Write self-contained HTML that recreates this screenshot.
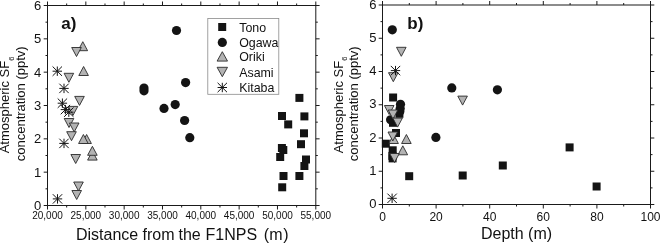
<!DOCTYPE html>
<html><head><meta charset="utf-8"><title>SF6 plots</title>
<style>
html,body{margin:0;padding:0;background:#fff;width:660px;height:243px;overflow:hidden;}
svg{display:block;font-family:"Liberation Sans", sans-serif;filter:grayscale(100%);}
text{fill:#111;}
</style></head>
<body>
<svg width="660" height="243" viewBox="0 0 660 243">
<rect width="660" height="243" fill="#fff"/>
<rect x="47.50" y="5.50" width="268.30" height="200.00" fill="none" stroke="#1a1a1a" stroke-width="1"/>
<line x1="47.50" y1="205.50" x2="47.50" y2="209.50" stroke="#1a1a1a" stroke-width="1"/>
<line x1="47.50" y1="5.50" x2="47.50" y2="1.50" stroke="#1a1a1a" stroke-width="1"/>
<line x1="85.83" y1="205.50" x2="85.83" y2="209.50" stroke="#1a1a1a" stroke-width="1"/>
<line x1="85.83" y1="5.50" x2="85.83" y2="1.50" stroke="#1a1a1a" stroke-width="1"/>
<line x1="124.16" y1="205.50" x2="124.16" y2="209.50" stroke="#1a1a1a" stroke-width="1"/>
<line x1="124.16" y1="5.50" x2="124.16" y2="1.50" stroke="#1a1a1a" stroke-width="1"/>
<line x1="162.49" y1="205.50" x2="162.49" y2="209.50" stroke="#1a1a1a" stroke-width="1"/>
<line x1="162.49" y1="5.50" x2="162.49" y2="1.50" stroke="#1a1a1a" stroke-width="1"/>
<line x1="200.81" y1="205.50" x2="200.81" y2="209.50" stroke="#1a1a1a" stroke-width="1"/>
<line x1="200.81" y1="5.50" x2="200.81" y2="1.50" stroke="#1a1a1a" stroke-width="1"/>
<line x1="239.14" y1="205.50" x2="239.14" y2="209.50" stroke="#1a1a1a" stroke-width="1"/>
<line x1="239.14" y1="5.50" x2="239.14" y2="1.50" stroke="#1a1a1a" stroke-width="1"/>
<line x1="277.47" y1="205.50" x2="277.47" y2="209.50" stroke="#1a1a1a" stroke-width="1"/>
<line x1="277.47" y1="5.50" x2="277.47" y2="1.50" stroke="#1a1a1a" stroke-width="1"/>
<line x1="315.80" y1="205.50" x2="315.80" y2="209.50" stroke="#1a1a1a" stroke-width="1"/>
<line x1="315.80" y1="5.50" x2="315.80" y2="1.50" stroke="#1a1a1a" stroke-width="1"/>
<line x1="66.66" y1="205.50" x2="66.66" y2="207.50" stroke="#1a1a1a" stroke-width="1"/>
<line x1="66.66" y1="5.50" x2="66.66" y2="3.50" stroke="#1a1a1a" stroke-width="1"/>
<line x1="104.99" y1="205.50" x2="104.99" y2="207.50" stroke="#1a1a1a" stroke-width="1"/>
<line x1="104.99" y1="5.50" x2="104.99" y2="3.50" stroke="#1a1a1a" stroke-width="1"/>
<line x1="143.32" y1="205.50" x2="143.32" y2="207.50" stroke="#1a1a1a" stroke-width="1"/>
<line x1="143.32" y1="5.50" x2="143.32" y2="3.50" stroke="#1a1a1a" stroke-width="1"/>
<line x1="181.65" y1="205.50" x2="181.65" y2="207.50" stroke="#1a1a1a" stroke-width="1"/>
<line x1="181.65" y1="5.50" x2="181.65" y2="3.50" stroke="#1a1a1a" stroke-width="1"/>
<line x1="219.98" y1="205.50" x2="219.98" y2="207.50" stroke="#1a1a1a" stroke-width="1"/>
<line x1="219.98" y1="5.50" x2="219.98" y2="3.50" stroke="#1a1a1a" stroke-width="1"/>
<line x1="258.31" y1="205.50" x2="258.31" y2="207.50" stroke="#1a1a1a" stroke-width="1"/>
<line x1="258.31" y1="5.50" x2="258.31" y2="3.50" stroke="#1a1a1a" stroke-width="1"/>
<line x1="296.64" y1="205.50" x2="296.64" y2="207.50" stroke="#1a1a1a" stroke-width="1"/>
<line x1="296.64" y1="5.50" x2="296.64" y2="3.50" stroke="#1a1a1a" stroke-width="1"/>
<line x1="43.70" y1="205.50" x2="47.50" y2="205.50" stroke="#1a1a1a" stroke-width="1"/>
<line x1="315.80" y1="205.50" x2="319.60" y2="205.50" stroke="#1a1a1a" stroke-width="1"/>
<line x1="43.70" y1="172.17" x2="47.50" y2="172.17" stroke="#1a1a1a" stroke-width="1"/>
<line x1="315.80" y1="172.17" x2="319.60" y2="172.17" stroke="#1a1a1a" stroke-width="1"/>
<line x1="43.70" y1="138.83" x2="47.50" y2="138.83" stroke="#1a1a1a" stroke-width="1"/>
<line x1="315.80" y1="138.83" x2="319.60" y2="138.83" stroke="#1a1a1a" stroke-width="1"/>
<line x1="43.70" y1="105.50" x2="47.50" y2="105.50" stroke="#1a1a1a" stroke-width="1"/>
<line x1="315.80" y1="105.50" x2="319.60" y2="105.50" stroke="#1a1a1a" stroke-width="1"/>
<line x1="43.70" y1="72.17" x2="47.50" y2="72.17" stroke="#1a1a1a" stroke-width="1"/>
<line x1="315.80" y1="72.17" x2="319.60" y2="72.17" stroke="#1a1a1a" stroke-width="1"/>
<line x1="43.70" y1="38.83" x2="47.50" y2="38.83" stroke="#1a1a1a" stroke-width="1"/>
<line x1="315.80" y1="38.83" x2="319.60" y2="38.83" stroke="#1a1a1a" stroke-width="1"/>
<line x1="43.70" y1="5.50" x2="47.50" y2="5.50" stroke="#1a1a1a" stroke-width="1"/>
<line x1="315.80" y1="5.50" x2="319.60" y2="5.50" stroke="#1a1a1a" stroke-width="1"/>
<line x1="45.50" y1="188.83" x2="47.50" y2="188.83" stroke="#1a1a1a" stroke-width="1"/>
<line x1="315.80" y1="188.83" x2="317.80" y2="188.83" stroke="#1a1a1a" stroke-width="1"/>
<line x1="45.50" y1="155.50" x2="47.50" y2="155.50" stroke="#1a1a1a" stroke-width="1"/>
<line x1="315.80" y1="155.50" x2="317.80" y2="155.50" stroke="#1a1a1a" stroke-width="1"/>
<line x1="45.50" y1="122.17" x2="47.50" y2="122.17" stroke="#1a1a1a" stroke-width="1"/>
<line x1="315.80" y1="122.17" x2="317.80" y2="122.17" stroke="#1a1a1a" stroke-width="1"/>
<line x1="45.50" y1="88.83" x2="47.50" y2="88.83" stroke="#1a1a1a" stroke-width="1"/>
<line x1="315.80" y1="88.83" x2="317.80" y2="88.83" stroke="#1a1a1a" stroke-width="1"/>
<line x1="45.50" y1="55.50" x2="47.50" y2="55.50" stroke="#1a1a1a" stroke-width="1"/>
<line x1="315.80" y1="55.50" x2="317.80" y2="55.50" stroke="#1a1a1a" stroke-width="1"/>
<line x1="45.50" y1="22.17" x2="47.50" y2="22.17" stroke="#1a1a1a" stroke-width="1"/>
<line x1="315.80" y1="22.17" x2="317.80" y2="22.17" stroke="#1a1a1a" stroke-width="1"/>
<text x="41.30" y="209.90" font-size="13" text-anchor="end" font-weight="normal" >0</text>
<text x="41.30" y="176.57" font-size="13" text-anchor="end" font-weight="normal" >1</text>
<text x="41.30" y="143.23" font-size="13" text-anchor="end" font-weight="normal" >2</text>
<text x="41.30" y="109.90" font-size="13" text-anchor="end" font-weight="normal" >3</text>
<text x="41.30" y="76.57" font-size="13" text-anchor="end" font-weight="normal" >4</text>
<text x="41.30" y="43.23" font-size="13" text-anchor="end" font-weight="normal" >5</text>
<text x="41.30" y="9.90" font-size="13" text-anchor="end" font-weight="normal" >6</text>
<text x="47.50" y="219.40" font-size="10" text-anchor="middle" font-weight="normal" >20,000</text>
<text x="85.83" y="219.40" font-size="10" text-anchor="middle" font-weight="normal" >25,000</text>
<text x="124.16" y="219.40" font-size="10" text-anchor="middle" font-weight="normal" >30,000</text>
<text x="162.49" y="219.40" font-size="10" text-anchor="middle" font-weight="normal" >35,000</text>
<text x="200.81" y="219.40" font-size="10" text-anchor="middle" font-weight="normal" >40,000</text>
<text x="239.14" y="219.40" font-size="10" text-anchor="middle" font-weight="normal" >45,000</text>
<text x="277.47" y="219.40" font-size="10" text-anchor="middle" font-weight="normal" >50,000</text>
<text x="315.80" y="219.40" font-size="10" text-anchor="middle" font-weight="normal" >55,000</text>
<text y="239.6" font-size="16"><tspan x="76.0">Distance</tspan><tspan x="142.5">from</tspan><tspan x="178.5">the</tspan><tspan x="205.6">F1NPS</tspan><tspan x="263.8">(m</tspan><tspan x="283.2">)</tspan></text>
<text x="61.30" y="29.20" font-size="17" text-anchor="start" font-weight="bold" >a)</text>
<g transform="translate(11.50,105.00) rotate(-90)"><text x="0" y="-2.2" font-size="13" text-anchor="middle">Atmospheric SF<tspan font-size="7.5" dy="4.2">6</tspan></text><text x="1.2" y="13.0" font-size="13" text-anchor="middle">concentration (pptv)</text></g>
<rect x="295.40" y="93.90" width="8" height="8" fill="#141414"/>
<rect x="278.00" y="112.00" width="8" height="8" fill="#141414"/>
<rect x="284.20" y="120.40" width="8" height="8" fill="#141414"/>
<rect x="300.40" y="112.40" width="8" height="8" fill="#141414"/>
<rect x="300.00" y="129.30" width="8" height="8" fill="#141414"/>
<rect x="297.00" y="140.20" width="8" height="8" fill="#141414"/>
<rect x="277.90" y="144.00" width="8" height="8" fill="#141414"/>
<rect x="279.30" y="146.00" width="8" height="8" fill="#141414"/>
<rect x="276.20" y="153.00" width="8" height="8" fill="#141414"/>
<rect x="302.00" y="155.50" width="8" height="8" fill="#141414"/>
<rect x="300.40" y="162.00" width="8" height="8" fill="#141414"/>
<rect x="279.50" y="172.00" width="8" height="8" fill="#141414"/>
<rect x="295.40" y="172.00" width="8" height="8" fill="#141414"/>
<rect x="278.20" y="183.30" width="8" height="8" fill="#141414"/>
<circle cx="176.50" cy="30.50" r="4.6" fill="#141414"/>
<circle cx="144.00" cy="88.00" r="4.6" fill="#141414"/>
<circle cx="144.00" cy="90.80" r="4.6" fill="#141414"/>
<circle cx="185.60" cy="82.60" r="4.6" fill="#141414"/>
<circle cx="164.00" cy="108.40" r="4.6" fill="#141414"/>
<circle cx="175.20" cy="104.60" r="4.6" fill="#141414"/>
<circle cx="184.60" cy="120.50" r="4.6" fill="#141414"/>
<circle cx="189.80" cy="137.70" r="4.6" fill="#141414"/>
<path d="M82.80,41.70 L87.60,50.70 L78.00,50.70 Z" fill="#b3b3b3" stroke="#2a2a2a" stroke-width="0.9" stroke-linejoin="miter"/>
<path d="M83.60,66.50 L88.40,75.50 L78.80,75.50 Z" fill="#b3b3b3" stroke="#2a2a2a" stroke-width="0.9" stroke-linejoin="miter"/>
<path d="M86.60,134.50 L91.40,143.50 L81.80,143.50 Z" fill="#b3b3b3" stroke="#2a2a2a" stroke-width="0.9" stroke-linejoin="miter"/>
<path d="M83.40,134.50 L88.20,143.50 L78.60,143.50 Z" fill="#b3b3b3" stroke="#2a2a2a" stroke-width="0.9" stroke-linejoin="miter"/>
<path d="M92.40,151.10 L97.20,160.10 L87.60,160.10 Z" fill="#b3b3b3" stroke="#2a2a2a" stroke-width="0.9" stroke-linejoin="miter"/>
<path d="M92.40,146.30 L97.20,155.30 L87.60,155.30 Z" fill="#b3b3b3" stroke="#2a2a2a" stroke-width="0.9" stroke-linejoin="miter"/>
<path d="M71.70,47.50 L81.30,47.50 L76.50,56.50 Z" fill="#b3b3b3" stroke="#2a2a2a" stroke-width="0.9" stroke-linejoin="miter"/>
<path d="M64.10,73.30 L73.70,73.30 L68.90,82.30 Z" fill="#b3b3b3" stroke="#2a2a2a" stroke-width="0.9" stroke-linejoin="miter"/>
<path d="M74.70,96.40 L84.30,96.40 L79.50,105.40 Z" fill="#b3b3b3" stroke="#2a2a2a" stroke-width="0.9" stroke-linejoin="miter"/>
<path d="M68.20,106.40 L77.80,106.40 L73.00,115.40 Z" fill="#b3b3b3" stroke="#2a2a2a" stroke-width="0.9" stroke-linejoin="miter"/>
<path d="M64.20,118.50 L73.80,118.50 L69.00,127.50 Z" fill="#b3b3b3" stroke="#2a2a2a" stroke-width="0.9" stroke-linejoin="miter"/>
<path d="M69.40,123.00 L79.00,123.00 L74.20,132.00 Z" fill="#b3b3b3" stroke="#2a2a2a" stroke-width="0.9" stroke-linejoin="miter"/>
<path d="M66.70,131.70 L76.30,131.70 L71.50,140.70 Z" fill="#b3b3b3" stroke="#2a2a2a" stroke-width="0.9" stroke-linejoin="miter"/>
<path d="M70.90,154.50 L80.50,154.50 L75.70,163.50 Z" fill="#b3b3b3" stroke="#2a2a2a" stroke-width="0.9" stroke-linejoin="miter"/>
<path d="M73.70,182.00 L83.30,182.00 L78.50,191.00 Z" fill="#b3b3b3" stroke="#2a2a2a" stroke-width="0.9" stroke-linejoin="miter"/>
<path d="M71.90,190.50 L81.50,190.50 L76.70,199.50 Z" fill="#b3b3b3" stroke="#2a2a2a" stroke-width="0.9" stroke-linejoin="miter"/>
<path d="M52.60,71.20H62.00M57.30,66.50V75.90M52.60,66.50L62.00,75.90M52.60,75.90L62.00,66.50" stroke="#141414" stroke-width="1" fill="none"/>
<path d="M59.30,88.40H68.70M64.00,83.70V93.10M59.30,83.70L68.70,93.10M59.30,93.10L68.70,83.70" stroke="#141414" stroke-width="1" fill="none"/>
<path d="M57.70,103.20H67.10M62.40,98.50V107.90M57.70,98.50L67.10,107.90M57.70,107.90L67.10,98.50" stroke="#141414" stroke-width="1" fill="none"/>
<path d="M60.70,109.60H70.10M65.40,104.90V114.30M60.70,104.90L70.10,114.30M60.70,114.30L70.10,104.90" stroke="#141414" stroke-width="1" fill="none"/>
<path d="M64.10,112.20H73.50M68.80,107.50V116.90M64.10,107.50L73.50,116.90M64.10,116.90L73.50,107.50" stroke="#141414" stroke-width="1" fill="none"/>
<path d="M59.30,143.40H68.70M64.00,138.70V148.10M59.30,138.70L68.70,148.10M59.30,148.10L68.70,138.70" stroke="#141414" stroke-width="1" fill="none"/>
<path d="M52.80,198.90H62.20M57.50,194.20V203.60M52.80,194.20L62.20,203.60M52.80,203.60L62.20,194.20" stroke="#141414" stroke-width="1" fill="none"/>
<rect x="207.8" y="18.4" width="71" height="75.9" fill="#fff" stroke="#8a8a8a" stroke-width="0.8"/>
<rect x="218.20" y="23.00" width="8" height="8" fill="#141414"/>
<circle cx="222.30" cy="42.40" r="4.6" fill="#141414"/>
<path d="M222.30,51.70 L227.50,61.10 L217.10,61.10 Z" fill="#b3b3b3" stroke="#2a2a2a" stroke-width="0.9" stroke-linejoin="miter"/>
<path d="M217.10,67.30 L227.50,67.30 L222.30,76.70 Z" fill="#b3b3b3" stroke="#2a2a2a" stroke-width="0.9" stroke-linejoin="miter"/>
<path d="M217.60,87.50H227.00M222.30,82.80V92.20M217.60,82.80L227.00,92.20M217.60,92.20L227.00,82.80" stroke="#141414" stroke-width="1" fill="none"/>
<text x="239.20" y="31.70" font-size="12.4" text-anchor="start" font-weight="normal" >Tono</text>
<text x="239.20" y="47.10" font-size="12.4" text-anchor="start" font-weight="normal" >Ogawa</text>
<text x="239.20" y="61.10" font-size="12.4" text-anchor="start" font-weight="normal" >Oriki</text>
<text x="239.20" y="76.70" font-size="12.4" text-anchor="start" font-weight="normal" >Asami</text>
<text x="239.20" y="92.20" font-size="12.4" text-anchor="start" font-weight="normal" >Kitaba</text>
<rect x="382.50" y="5.00" width="268.00" height="199.50" fill="none" stroke="#1a1a1a" stroke-width="1"/>
<line x1="382.50" y1="204.50" x2="382.50" y2="208.50" stroke="#1a1a1a" stroke-width="1"/>
<line x1="382.50" y1="5.00" x2="382.50" y2="1.00" stroke="#1a1a1a" stroke-width="1"/>
<line x1="436.10" y1="204.50" x2="436.10" y2="208.50" stroke="#1a1a1a" stroke-width="1"/>
<line x1="436.10" y1="5.00" x2="436.10" y2="1.00" stroke="#1a1a1a" stroke-width="1"/>
<line x1="489.70" y1="204.50" x2="489.70" y2="208.50" stroke="#1a1a1a" stroke-width="1"/>
<line x1="489.70" y1="5.00" x2="489.70" y2="1.00" stroke="#1a1a1a" stroke-width="1"/>
<line x1="543.30" y1="204.50" x2="543.30" y2="208.50" stroke="#1a1a1a" stroke-width="1"/>
<line x1="543.30" y1="5.00" x2="543.30" y2="1.00" stroke="#1a1a1a" stroke-width="1"/>
<line x1="596.90" y1="204.50" x2="596.90" y2="208.50" stroke="#1a1a1a" stroke-width="1"/>
<line x1="596.90" y1="5.00" x2="596.90" y2="1.00" stroke="#1a1a1a" stroke-width="1"/>
<line x1="650.50" y1="204.50" x2="650.50" y2="208.50" stroke="#1a1a1a" stroke-width="1"/>
<line x1="650.50" y1="5.00" x2="650.50" y2="1.00" stroke="#1a1a1a" stroke-width="1"/>
<line x1="409.30" y1="204.50" x2="409.30" y2="206.50" stroke="#1a1a1a" stroke-width="1"/>
<line x1="409.30" y1="5.00" x2="409.30" y2="3.00" stroke="#1a1a1a" stroke-width="1"/>
<line x1="462.90" y1="204.50" x2="462.90" y2="206.50" stroke="#1a1a1a" stroke-width="1"/>
<line x1="462.90" y1="5.00" x2="462.90" y2="3.00" stroke="#1a1a1a" stroke-width="1"/>
<line x1="516.50" y1="204.50" x2="516.50" y2="206.50" stroke="#1a1a1a" stroke-width="1"/>
<line x1="516.50" y1="5.00" x2="516.50" y2="3.00" stroke="#1a1a1a" stroke-width="1"/>
<line x1="570.10" y1="204.50" x2="570.10" y2="206.50" stroke="#1a1a1a" stroke-width="1"/>
<line x1="570.10" y1="5.00" x2="570.10" y2="3.00" stroke="#1a1a1a" stroke-width="1"/>
<line x1="623.70" y1="204.50" x2="623.70" y2="206.50" stroke="#1a1a1a" stroke-width="1"/>
<line x1="623.70" y1="5.00" x2="623.70" y2="3.00" stroke="#1a1a1a" stroke-width="1"/>
<line x1="378.70" y1="204.50" x2="382.50" y2="204.50" stroke="#1a1a1a" stroke-width="1"/>
<line x1="650.50" y1="204.50" x2="654.30" y2="204.50" stroke="#1a1a1a" stroke-width="1"/>
<line x1="378.70" y1="171.25" x2="382.50" y2="171.25" stroke="#1a1a1a" stroke-width="1"/>
<line x1="650.50" y1="171.25" x2="654.30" y2="171.25" stroke="#1a1a1a" stroke-width="1"/>
<line x1="378.70" y1="138.00" x2="382.50" y2="138.00" stroke="#1a1a1a" stroke-width="1"/>
<line x1="650.50" y1="138.00" x2="654.30" y2="138.00" stroke="#1a1a1a" stroke-width="1"/>
<line x1="378.70" y1="104.75" x2="382.50" y2="104.75" stroke="#1a1a1a" stroke-width="1"/>
<line x1="650.50" y1="104.75" x2="654.30" y2="104.75" stroke="#1a1a1a" stroke-width="1"/>
<line x1="378.70" y1="71.50" x2="382.50" y2="71.50" stroke="#1a1a1a" stroke-width="1"/>
<line x1="650.50" y1="71.50" x2="654.30" y2="71.50" stroke="#1a1a1a" stroke-width="1"/>
<line x1="378.70" y1="38.25" x2="382.50" y2="38.25" stroke="#1a1a1a" stroke-width="1"/>
<line x1="650.50" y1="38.25" x2="654.30" y2="38.25" stroke="#1a1a1a" stroke-width="1"/>
<line x1="378.70" y1="5.00" x2="382.50" y2="5.00" stroke="#1a1a1a" stroke-width="1"/>
<line x1="650.50" y1="5.00" x2="654.30" y2="5.00" stroke="#1a1a1a" stroke-width="1"/>
<line x1="380.50" y1="187.88" x2="382.50" y2="187.88" stroke="#1a1a1a" stroke-width="1"/>
<line x1="650.50" y1="187.88" x2="652.50" y2="187.88" stroke="#1a1a1a" stroke-width="1"/>
<line x1="380.50" y1="154.62" x2="382.50" y2="154.62" stroke="#1a1a1a" stroke-width="1"/>
<line x1="650.50" y1="154.62" x2="652.50" y2="154.62" stroke="#1a1a1a" stroke-width="1"/>
<line x1="380.50" y1="121.38" x2="382.50" y2="121.38" stroke="#1a1a1a" stroke-width="1"/>
<line x1="650.50" y1="121.38" x2="652.50" y2="121.38" stroke="#1a1a1a" stroke-width="1"/>
<line x1="380.50" y1="88.12" x2="382.50" y2="88.12" stroke="#1a1a1a" stroke-width="1"/>
<line x1="650.50" y1="88.12" x2="652.50" y2="88.12" stroke="#1a1a1a" stroke-width="1"/>
<line x1="380.50" y1="54.88" x2="382.50" y2="54.88" stroke="#1a1a1a" stroke-width="1"/>
<line x1="650.50" y1="54.88" x2="652.50" y2="54.88" stroke="#1a1a1a" stroke-width="1"/>
<line x1="380.50" y1="21.62" x2="382.50" y2="21.62" stroke="#1a1a1a" stroke-width="1"/>
<line x1="650.50" y1="21.62" x2="652.50" y2="21.62" stroke="#1a1a1a" stroke-width="1"/>
<text x="376.40" y="208.10" font-size="13" text-anchor="end" font-weight="normal" >0</text>
<text x="376.40" y="174.85" font-size="13" text-anchor="end" font-weight="normal" >1</text>
<text x="376.40" y="141.60" font-size="13" text-anchor="end" font-weight="normal" >2</text>
<text x="376.40" y="108.35" font-size="13" text-anchor="end" font-weight="normal" >3</text>
<text x="376.40" y="75.10" font-size="13" text-anchor="end" font-weight="normal" >4</text>
<text x="376.40" y="41.85" font-size="13" text-anchor="end" font-weight="normal" >5</text>
<text x="376.40" y="8.60" font-size="13" text-anchor="end" font-weight="normal" >6</text>
<text x="382.50" y="221.00" font-size="12" text-anchor="middle" font-weight="normal" >0</text>
<text x="436.10" y="221.00" font-size="12" text-anchor="middle" font-weight="normal" >20</text>
<text x="489.70" y="221.00" font-size="12" text-anchor="middle" font-weight="normal" >40</text>
<text x="543.30" y="221.00" font-size="12" text-anchor="middle" font-weight="normal" >60</text>
<text x="596.90" y="221.00" font-size="12" text-anchor="middle" font-weight="normal" >80</text>
<text x="650.50" y="221.00" font-size="12" text-anchor="middle" font-weight="normal" >100</text>
<text x="516.50" y="239.00" font-size="16" text-anchor="middle" font-weight="normal" >Depth (m)</text>
<text x="407.30" y="29.20" font-size="17" text-anchor="start" font-weight="bold" >b)</text>
<g transform="translate(345.00,105.00) rotate(-90)"><text x="0" y="-2.2" font-size="13" text-anchor="middle">Atmospheric SF<tspan font-size="7.5" dy="4.2">6</tspan></text><text x="1.2" y="13.0" font-size="13" text-anchor="middle">concentration (pptv)</text></g>
<rect x="389.10" y="93.50" width="8" height="8" fill="#141414"/>
<rect x="395.40" y="109.80" width="8" height="8" fill="#141414"/>
<rect x="389.00" y="118.80" width="8" height="8" fill="#141414"/>
<rect x="392.00" y="129.00" width="8" height="8" fill="#141414"/>
<rect x="381.80" y="139.70" width="8" height="8" fill="#141414"/>
<rect x="388.70" y="146.30" width="8" height="8" fill="#141414"/>
<rect x="388.40" y="151.90" width="8" height="8" fill="#141414"/>
<rect x="388.60" y="154.40" width="8" height="8" fill="#141414"/>
<rect x="405.20" y="172.20" width="8" height="8" fill="#141414"/>
<rect x="458.70" y="171.50" width="8" height="8" fill="#141414"/>
<rect x="498.80" y="161.50" width="8" height="8" fill="#141414"/>
<rect x="565.60" y="143.40" width="8" height="8" fill="#141414"/>
<rect x="592.60" y="182.50" width="8" height="8" fill="#141414"/>
<circle cx="392.30" cy="29.80" r="4.6" fill="#141414"/>
<circle cx="400.50" cy="104.30" r="4.6" fill="#141414"/>
<circle cx="400.20" cy="108.50" r="4.6" fill="#141414"/>
<circle cx="399.80" cy="111.50" r="4.6" fill="#141414"/>
<circle cx="390.60" cy="119.80" r="4.6" fill="#141414"/>
<circle cx="451.80" cy="87.90" r="4.6" fill="#141414"/>
<circle cx="435.90" cy="137.40" r="4.6" fill="#141414"/>
<circle cx="497.40" cy="89.80" r="4.6" fill="#141414"/>
<path d="M406.40,134.50 L411.20,143.50 L401.60,143.50 Z" fill="#b3b3b3" stroke="#2a2a2a" stroke-width="0.9" stroke-linejoin="miter"/>
<path d="M393.60,134.50 L398.40,143.50 L388.80,143.50 Z" fill="#b3b3b3" stroke="#2a2a2a" stroke-width="0.9" stroke-linejoin="miter"/>
<path d="M402.80,145.80 L407.60,154.80 L398.00,154.80 Z" fill="#b3b3b3" stroke="#2a2a2a" stroke-width="0.9" stroke-linejoin="miter"/>
<path d="M396.50,47.30 L406.10,47.30 L401.30,56.30 Z" fill="#b3b3b3" stroke="#2a2a2a" stroke-width="0.9" stroke-linejoin="miter"/>
<path d="M388.50,72.70 L398.10,72.70 L393.30,81.70 Z" fill="#b3b3b3" stroke="#2a2a2a" stroke-width="0.9" stroke-linejoin="miter"/>
<path d="M384.40,105.50 L394.00,105.50 L389.20,114.50 Z" fill="#b3b3b3" stroke="#2a2a2a" stroke-width="0.9" stroke-linejoin="miter"/>
<path d="M388.20,110.00 L397.80,110.00 L393.00,119.00 Z" fill="#b3b3b3" stroke="#2a2a2a" stroke-width="0.9" stroke-linejoin="miter"/>
<path d="M392.80,118.10 L402.40,118.10 L397.60,127.10 Z" fill="#b3b3b3" stroke="#2a2a2a" stroke-width="0.9" stroke-linejoin="miter"/>
<path d="M388.00,132.00 L397.60,132.00 L392.80,141.00 Z" fill="#b3b3b3" stroke="#2a2a2a" stroke-width="0.9" stroke-linejoin="miter"/>
<path d="M389.70,153.50 L399.30,153.50 L394.50,162.50 Z" fill="#b3b3b3" stroke="#2a2a2a" stroke-width="0.9" stroke-linejoin="miter"/>
<path d="M457.80,96.10 L467.40,96.10 L462.60,105.10 Z" fill="#b3b3b3" stroke="#2a2a2a" stroke-width="0.9" stroke-linejoin="miter"/>
<path d="M390.80,70.60H400.20M395.50,65.90V75.30M390.80,65.90L400.20,75.30M390.80,75.30L400.20,65.90" stroke="#141414" stroke-width="1" fill="none"/>
<path d="M387.40,198.30H396.80M392.10,193.60V203.00M387.40,193.60L396.80,203.00M387.40,203.00L396.80,193.60" stroke="#141414" stroke-width="1" fill="none"/>
</svg>
</body></html>
